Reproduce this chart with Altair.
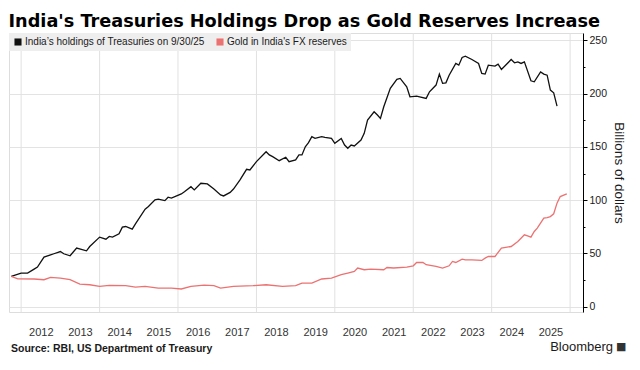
import altair as alt
import pandas as pd

# ---- data ----
tsy_dates = ["2011-10", "2012-01", "2012-03", "2012-05", "2012-06", "2012-08", "2012-10", "2012-11",
             "2013-01", "2013-02", "2013-04", "2013-06", "2013-09", "2013-10",
             "2014-01", "2014-03", "2014-04", "2014-05", "2014-07", "2014-08", "2014-09", "2014-11", "2014-12",
             "2015-03", "2015-04", "2015-06", "2015-07", "2015-09", "2015-10", "2015-11",
             "2016-02", "2016-03", "2016-05", "2016-06", "2016-08", "2016-10", "2016-12",
             "2017-02", "2017-03", "2017-05", "2017-06", "2017-08", "2017-10", "2017-11",
             "2018-01", "2018-04", "2018-05", "2018-06", "2018-08", "2018-10", "2018-11",
             "2019-01", "2019-02", "2019-03", "2019-04", "2019-05", "2019-06", "2019-07", "2019-09", "2019-10", "2019-12",
             "2020-01", "2020-03", "2020-04", "2020-05", "2020-06", "2020-07", "2020-09", "2020-10", "2020-11",
             "2021-01", "2021-02", "2021-03", "2021-04", "2021-06", "2021-08", "2021-09", "2021-11", "2021-12",
             "2022-02", "2022-05", "2022-06", "2022-08", "2022-09", "2022-10", "2022-11", "2022-12",
             "2023-02", "2023-03", "2023-04", "2023-05", "2023-07", "2023-09", "2023-10", "2023-11", "2023-12",
             "2024-02", "2024-03", "2024-04", "2024-07", "2024-08", "2024-09", "2024-10", "2024-11",
             "2025-01", "2025-02", "2025-04", "2025-05", "2025-06", "2025-07", "2025-08", "2025-09"]
tsy_values = [28.4, 31.6, 31.6, 35.3, 37.2, 46.6, 48.7, 49.7,
              51.8, 49.7, 47.8, 55.0, 52.5, 56.5,
              65.3, 63.4, 66.0, 65.3, 68.4, 74.7, 75.3, 72.8, 77.8,
              91.6, 94.0, 100.3, 100.9, 99.6, 102.8, 101.9,
              105.9, 108.0, 112.7, 109.7, 115.9, 115.3, 110.5,
              105.0, 104.0, 107.3, 110.5, 119.0, 129.0, 128.4,
              136.2, 145.5, 142.5, 140.9, 137.1, 140.3, 136.2,
              137.8, 142.5, 142.5, 150.2, 154.0, 159.6, 158.0, 159.6, 159.0, 158.0,
              153.4, 158.0, 151.8, 148.7, 151.8, 150.9, 156.5, 162.8, 175.3,
              183.0, 180.0, 176.8, 187.7, 205.0, 213.4, 214.3, 206.5, 197.1,
              197.8, 195.6, 201.8, 208.1, 218.4, 209.7, 210.2, 217.4,
              228.4, 226.8, 234.0, 235.2, 232.1, 228.4, 219.0, 218.4, 226.8,
              225.9, 227.7, 222.8, 232.1, 229.0, 229.9, 228.4, 229.9,
              212.1, 211.2, 220.5, 218.4, 217.4, 203.4, 200.8, 188.4]

gold_dates = ["2011-10", "2011-12", "2012-05", "2012-08", "2012-10", "2013-01", "2013-04", "2013-07", "2013-10",
              "2014-01", "2014-04", "2014-09", "2014-12", "2015-03", "2015-07", "2015-11",
              "2016-02", "2016-05", "2016-09", "2016-12", "2017-02", "2017-06", "2017-12",
              "2018-04", "2018-09", "2019-01", "2019-03", "2019-06", "2019-09", "2019-12",
              "2020-03", "2020-05", "2020-07", "2020-08", "2020-10", "2020-12",
              "2021-04", "2021-05", "2021-07", "2021-11", "2022-01", "2022-02", "2022-04", "2022-05",
              "2022-08", "2022-10", "2022-12", "2023-01", "2023-02", "2023-04", "2023-05", "2023-07",
              "2023-10", "2023-11", "2023-12", "2024-02", "2024-04", "2024-07", "2024-09", "2024-11", "2024-12",
              "2025-01", "2025-02", "2025-03", "2025-05", "2025-06", "2025-07", "2025-08", "2025-09",
              "2025-10", "2025-12"]
gold_values = [28.4, 26.2, 26.0, 25.3, 27.5, 26.9, 25.3, 21.2, 20.6,
               19.0, 20.0, 19.7, 18.4, 19.0, 17.5, 17.5,
               16.6, 19.0, 20.3, 19.7, 17.5, 19.0, 19.7,
               20.6, 19.0, 19.7, 22.2, 22.2, 26.0, 26.9,
               30.0, 31.6, 33.1, 36.3, 34.7, 35.3,
               34.7, 36.8, 36.3, 37.2, 38.4, 41.5, 41.5, 39.4,
               37.8, 36.3, 38.4, 42.5, 41.5, 44.7, 44.0, 44.0,
               43.4, 45.6, 47.1, 47.1, 55.0, 56.5, 61.2, 67.5, 66.5,
               65.3, 70.6, 73.8, 83.1, 83.7, 84.6, 87.2, 97.2,
               103.4, 105.9]

series_names = ["India\u2019s holdings of Treasuries on 9/30/25", "Gold in India's FX reserves"]
series_colors = ["#111111", "#ec7272"]
label_years = list(range(2012, 2026))
grid_years = list(range(2012, 2027, 2))
y_ticks = [0, 25, 50, 75, 100, 125, 150, 175, 200, 225, 250]

title_text = "India's Treasuries Holdings Drop as Gold Reserves Increase"
source_text = "Source:  RBI, US Department of Treasury"
brand_text = "Bloomberg"
logo_text = "\u25a0"
y_title = "Billions of dollars"

# ---- tables ----
df = pd.concat([
    pd.DataFrame({"date": [d + "-01" for d in tsy_dates], "value": tsy_values, "series": series_names[0]}),
    pd.DataFrame({"date": [d + "-01" for d in gold_dates], "value": gold_values, "series": series_names[1]}),
])
grid_df = pd.DataFrame({"gdate": [f"{y}-01-01" for y in grid_years]})

W, H = 574, 279
FONT = "Liberation Sans"

x_scale = alt.Scale(domain=[alt.DateTime(year=2011, month=9, date=10),
                            alt.DateTime(year=2026, month=5, date=1)])
y_scale = alt.Scale(domain=[-5, 257], nice=False, zero=False)
color_scale = alt.Scale(domain=series_names, range=series_colors)

x_axis = alt.Axis(
    values=[alt.DateTime(year=y, month=7, date=2) for y in label_years],
    format="%Y", grid=False, ticks=False, domain=False,
    labelFont=FONT, labelFontSize=11, labelColor="#333333", labelPadding=14,
)
y_axis = alt.Axis(
    orient="right", values=y_ticks,
    labelExpr="datum.value % 50 === 0 ? datum.label : ''",
    grid=True, gridColor="#e3e3e3",
    gridOpacity={"condition": {"test": "datum.value % 50 === 0", "value": 1}, "value": 0},
    tickSize={"condition": {"test": "datum.value % 50 === 0", "value": 4}, "value": 2},
    tickColor="#000000", domainColor="#000000",
    labelFont=FONT, labelFontSize=10.5, labelColor="#1a1a1a", labelPadding=2,
    titleFont=FONT, titleFontSize=13.5, titleFontWeight="normal", titleColor="#1a1a1a",
    titlePadding=5,
)

X = alt.X("date:T", scale=x_scale, title=None, axis=x_axis)
Y = alt.Y("value:Q", scale=y_scale, title=y_title, axis=y_axis)

vgrid = alt.Chart(grid_df).mark_rule(color="#e1e1e1", strokeWidth=1).encode(
    x=alt.X("gdate:T", scale=x_scale, title=None, axis=x_axis),
)

legend_layer = alt.Chart(df).mark_square(opacity=0).encode(
    x=X, y=Y,
    color=alt.Color("series:N", scale=color_scale, legend=alt.Legend(
        title=None, orient="top-left", direction="horizontal", offset=0,
        fillColor="#eeeeee", padding=4, symbolType="square", symbolSize=50,
        symbolOpacity=1, symbolStrokeWidth=0, labelFont=FONT, labelFontSize=10,
        labelColor="#1a1a1a", labelOffset=2, columnPadding=10, labelLimit=400,
    )),
)

lines = alt.Chart(df).mark_line(strokeWidth=1.3).encode(
    x=X, y=Y,
    color=alt.Color("series:N", scale=color_scale, legend=None),
    detail="series:N",
)

source = alt.Chart(pd.DataFrame({"t": [source_text]})).mark_text(
    align="left", baseline="middle", font=FONT, fontSize=10.5, fontWeight="bold", color="#1a1a1a"
).encode(text="t:N", x=alt.value(2), y=alt.value(H + 37))

brand = alt.Chart(pd.DataFrame({"t": [brand_text]})).mark_text(
    align="right", baseline="middle", font=FONT, fontSize=13, color="#1a1a1a"
).encode(text="t:N", x=alt.value(W + 30), y=alt.value(H + 35))

logo = alt.Chart(pd.DataFrame({"t": [logo_text]})).mark_text(
    align="left", baseline="middle", font="DejaVu Sans", fontSize=11, color="#333333"
).encode(text="t:N", x=alt.value(W + 33), y=alt.value(H + 35))

chart = alt.layer(vgrid, legend_layer, lines, source, brand, logo).properties(
    width=W, height=H, padding={"top": 4, "left": 0, "right": 0, "bottom": 0},
    title=alt.Title(title_text, anchor="start", font="DejaVu Sans", fontSize=17.7,
                    fontWeight="bold", color="#000000", offset=2),
).configure_view(stroke=None).configure(background="white")

chart.save("out.html", embed_options={"renderer": "svg", "actions": False})
